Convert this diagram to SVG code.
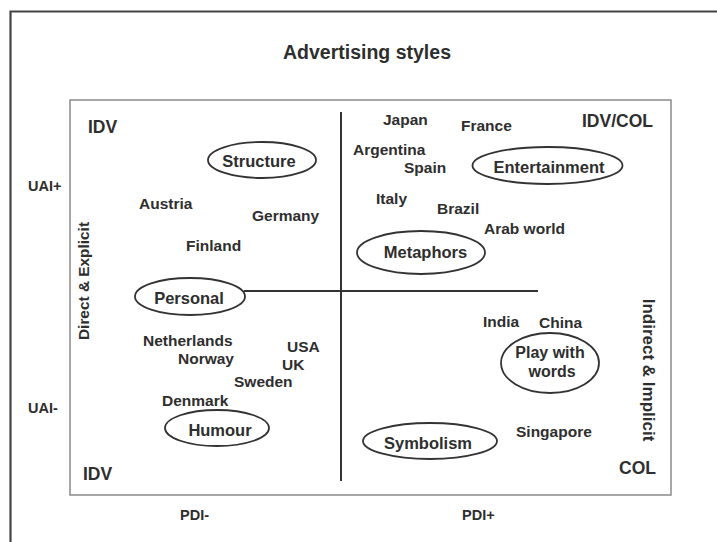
<svg xmlns="http://www.w3.org/2000/svg" width="717" height="542" viewBox="0 0 717 542">
<style>
text{font-family:"Liberation Sans",Arial,sans-serif;font-weight:bold;fill:#2e2e2e}
.c{font-size:15.5px}
.e{font-size:16.5px;text-anchor:middle}
.q{font-size:17.5px}
.a{font-size:14.5px}
.t{font-size:19.5px;text-anchor:middle}
.ell{fill:none;stroke:#333;stroke-width:1.8}
</style>
<rect width="717" height="542" fill="#fff"/>
<path d="M10.5,542 V11.5 H717" fill="none" stroke="#444" stroke-width="2.2"/>
<text class="t" x="367" y="59">Advertising styles</text>
<rect x="70" y="100" width="601" height="395" fill="none" stroke="#8a8a8a" stroke-width="1.5"/>
<g id="connectors" stroke="#333" stroke-width="2" fill="none">
<line x1="341" y1="112" x2="341" y2="481"/>
<line x1="244" y1="291" x2="538" y2="291"/>
</g>
<g id="axis-labels">
<text class="a" x="28" y="191">UAI+</text>
<text class="a" x="28" y="413">UAI-</text>
<text class="a" x="180" y="520">PDI-</text>
<text class="a" x="462" y="520">PDI+</text>
<text class="c" style="font-size:15.4px" text-anchor="middle" transform="translate(89,281) rotate(-90)">Direct &amp; Explicit</text>
<text class="c" style="font-size:17px" text-anchor="middle" transform="translate(643,370) rotate(90)">Indirect &amp; Implicit</text>
</g>
<g id="quadrant-labels">
<text class="q" x="88" y="133">IDV</text>
<text class="q" x="582" y="127">IDV/COL</text>
<text class="q" x="83" y="480">IDV</text>
<text class="q" x="619" y="474">COL</text>
</g>
<g id="node-structure"><ellipse class="ell" cx="262" cy="160" rx="54" ry="18"/><text class="e" x="259" y="167">Structure</text></g>
<g id="node-personal"><ellipse class="ell" cx="190" cy="296.5" rx="55" ry="18.5"/><text class="e" x="189" y="304">Personal</text></g>
<g id="node-humour"><ellipse class="ell" cx="217" cy="428" rx="52" ry="18"/><text class="e" x="220" y="436">Humour</text></g>
<g id="node-entertainment"><ellipse class="ell" cx="547.5" cy="165.5" rx="75" ry="18.5"/><text class="e" x="549" y="173">Entertainment</text></g>
<g id="node-metaphors"><ellipse class="ell" cx="421" cy="252.5" rx="64" ry="21.5"/><text class="e" x="425.5" y="258">Metaphors</text></g>
<g id="node-playwithwords"><ellipse class="ell" cx="550" cy="363" rx="49" ry="30"/><text class="e" style="font-size:16px" x="550" y="358">Play with</text><text class="e" style="font-size:16px" x="552" y="377">words</text></g>
<g id="node-symbolism"><ellipse class="ell" cx="430" cy="441" rx="67" ry="18"/><text class="e" x="428" y="449">Symbolism</text></g>
<g id="countries">
<text class="c" x="139" y="209">Austria</text>
<text class="c" x="252" y="221">Germany</text>
<text class="c" x="186" y="251">Finland</text>
<text class="c" x="143" y="346">Netherlands</text>
<text class="c" x="178" y="364">Norway</text>
<text class="c" x="287" y="352">USA</text>
<text class="c" x="282" y="370">UK</text>
<text class="c" x="234" y="387">Sweden</text>
<text class="c" x="162" y="406">Denmark</text>
<text class="c" x="383" y="125">Japan</text>
<text class="c" x="461" y="131">France</text>
<text class="c" x="353" y="155">Argentina</text>
<text class="c" x="404" y="173">Spain</text>
<text class="c" x="376" y="204">Italy</text>
<text class="c" x="437" y="214">Brazil</text>
<text class="c" x="484" y="234">Arab world</text>
<text class="c" x="483" y="327">India</text>
<text class="c" x="539" y="328">China</text>
<text class="c" x="516" y="437">Singapore</text>
</g>
</svg>
